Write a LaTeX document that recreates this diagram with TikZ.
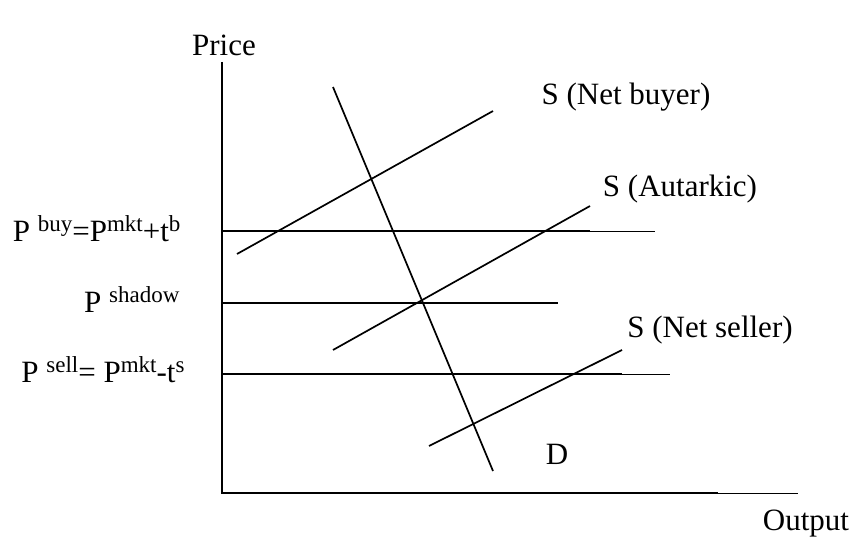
\documentclass[tikz,border=0pt]{standalone}
\usepackage{fontspec}
\setmainfont{Liberation Serif}
\usetikzlibrary{calc}
\newcommand{\sups}[1]{\raisebox{10pt}{\fontsize{23}{23}\selectfont #1}}

\begin{document}
\begin{tikzpicture}[x=1pt,y=-1pt,font=\fontsize{31}{35}\selectfont,
  thickline/.style={line width=1.7pt},
  thinline/.style={line width=0.9pt}]
\useasboundingbox (0,0) rectangle (852,543);
% axes
\coordinate (O) at (222,493); \coordinate (Top) at (222,62);
\coordinate (Xa) at (718,493); \coordinate (Xb) at (798,493);
\draw[thickline] (Top)--(O)--(Xa);
\draw[thinline] (Xa)--(Xb);
\node (price) at (224,45) {Price};
\node (output) at (806,524) {Output};
% price lines
\coordinate (Bl) at (222,231); \coordinate (Ba) at (590,231); \coordinate (Bb) at (655,231);
\coordinate (Hl) at (222,303); \coordinate (Ha) at (558,303);
\coordinate (Ll) at (222,374); \coordinate (La) at (622,374); \coordinate (Lb) at (670,374);
\draw[thickline] (Bl)--(Ba); \draw[thinline] (Ba)--(Bb);
\draw[thickline] (Hl)--(Ha);
\draw[thickline] (Ll)--(La); \draw[thinline] (La)--(Lb);
\node[anchor=east] (pbuy) at (184,229) {P \sups{buy}=P\sups{mkt}+t\sups{b}};
\node[anchor=east] (pshadow) at (183,300) {P \sups{shadow}};
\node[anchor=east] (psell) at (188,370) {P \sups{sell}= P\sups{mkt}-t\sups{s}};
% demand and supply
\coordinate (D1) at (333,87); \coordinate (D2) at (493,471);
\draw[thickline] (D1)--(D2);
\node (dlab) at (557,454) {D};
\coordinate (S1a) at (237,254); \coordinate (S1b) at (493,111);
\coordinate (S2a) at (333,350); \coordinate (S2b) at (590,206);
\coordinate (S3a) at (429,446); \coordinate (S3b) at (622,350);
\draw[thickline] (S1a)--(S1b);
\draw[thickline] (S2a)--(S2b);
\draw[thickline] (S3a)--(S3b);
\node (sbuyer) at (626,97) {S (Net buyer)};
\node (saut) at (680,189) {S (Autarkic)};
\node (sseller) at (710,330) {S (Net seller)};
\end{tikzpicture}
\end{document}
